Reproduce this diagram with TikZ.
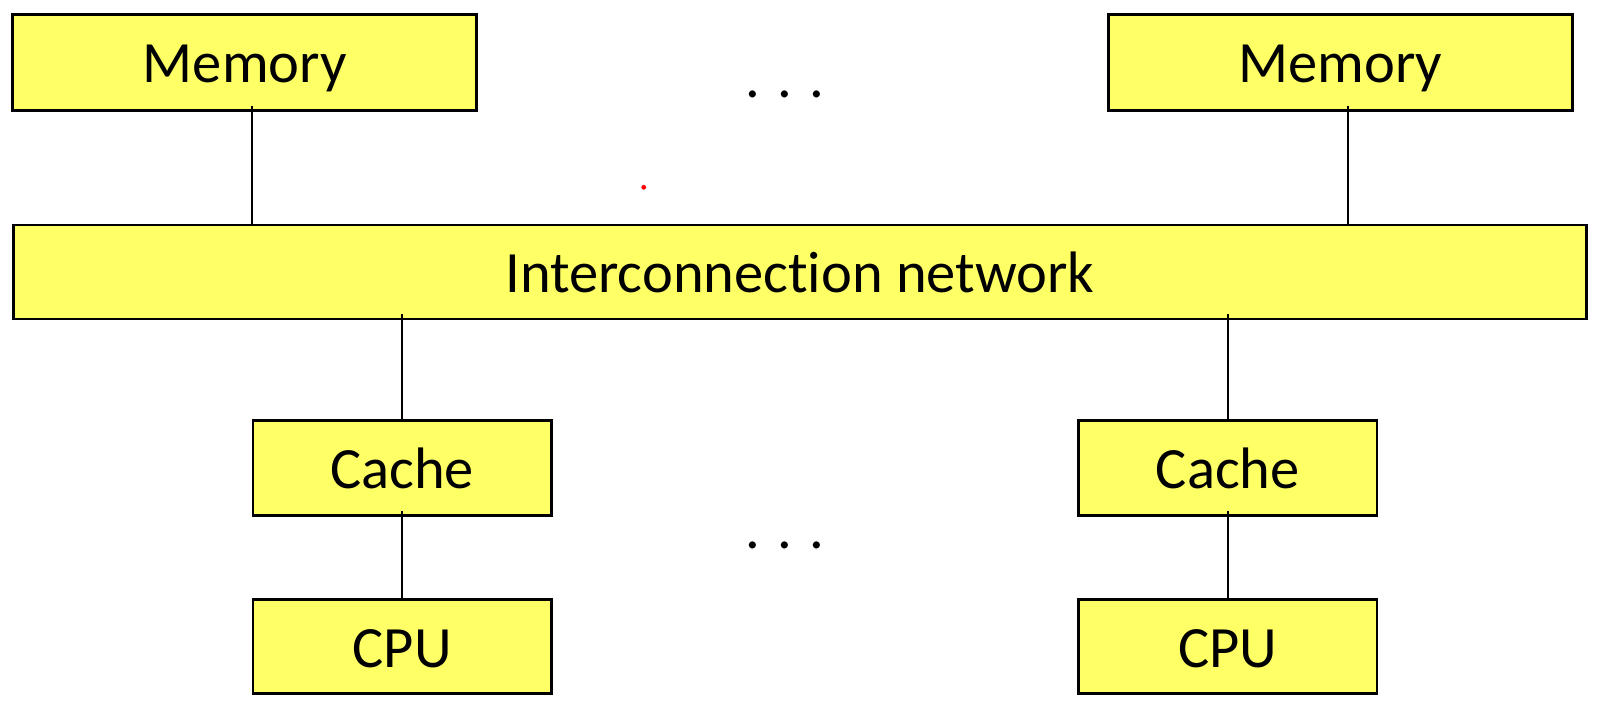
\documentclass[tikz,border=0pt]{standalone}
\usepackage{fontspec}
\setmainfont{Carlito}[Ligatures = NoCommon]
\definecolor{boxyellow}{HTML}{FFFF66}

\begin{document}
\begin{tikzpicture}[x = 1pt, y = -1pt]
\tikzstyle{UnitStyle}=[shape = rectangle,
                       draw,
                       line width = 2.7pt,
                       fill = boxyellow,
                       inner sep = 0pt,
                       text height = 41pt,
                       text depth = 0pt,
                       font = \fontsize{58.5pt}{70pt}\selectfont]
\tikzstyle{LinkStyle}=[line width = 2.2pt, shorten <= -6pt]
\tikzstyle{DotsStyle}=[anchor = base, inner sep = 0pt, font = \fontsize{58.5pt}{70pt}\selectfont]
\useasboundingbox (0,0) rectangle (1597,711);
\node[UnitStyle, minimum width = 464pt, minimum height = 96pt] (mem1) at (244.8, 62.3) {Memory};
\node[UnitStyle, minimum width = 464pt, minimum height = 96pt] (mem2) at (1340.3, 62.3) {Memory};
\node[UnitStyle, minimum width = 1573pt, minimum height = 94pt] (net) at (799.8, 272) {Interconnection network};
\node[UnitStyle, minimum width = 298.5pt, minimum height = 95pt] (cache1) at (402.2, 467.8) {Cache};
\node[UnitStyle, minimum width = 298.5pt, minimum height = 95pt] (cache2) at (1227.8, 467.8) {Cache};
\node[UnitStyle, minimum width = 298.5pt, minimum height = 94pt] (cpu1) at (402.2, 646.7) {CPU};
\node[UnitStyle, minimum width = 298.5pt, minimum height = 94pt] (cpu2) at (1227.8, 646.7) {CPU};
\node[DotsStyle] (dotsTop) at (785, 97.5) {. . .};
\node[DotsStyle] (dotsBottom) at (785, 548.2) {. . .};
\fill[red] (643.7, 187.3) circle (2.4pt);
\draw[LinkStyle] ([xshift = 7.5pt]mem1.south) -- ([xshift = 7.5pt]mem1.south |- net.north);
\draw[LinkStyle] ([xshift = 7.4pt]mem2.south) -- ([xshift = 7.4pt]mem2.south |- net.north);
\draw[LinkStyle] (cache1.north |- net.south) -- (cache1.north);
\draw[LinkStyle] (cache2.north |- net.south) -- (cache2.north);
\draw[LinkStyle] (cache1.south) -- (cpu1.north);
\draw[LinkStyle] (cache2.south) -- (cpu2.north);
\end{tikzpicture}
\end{document}
